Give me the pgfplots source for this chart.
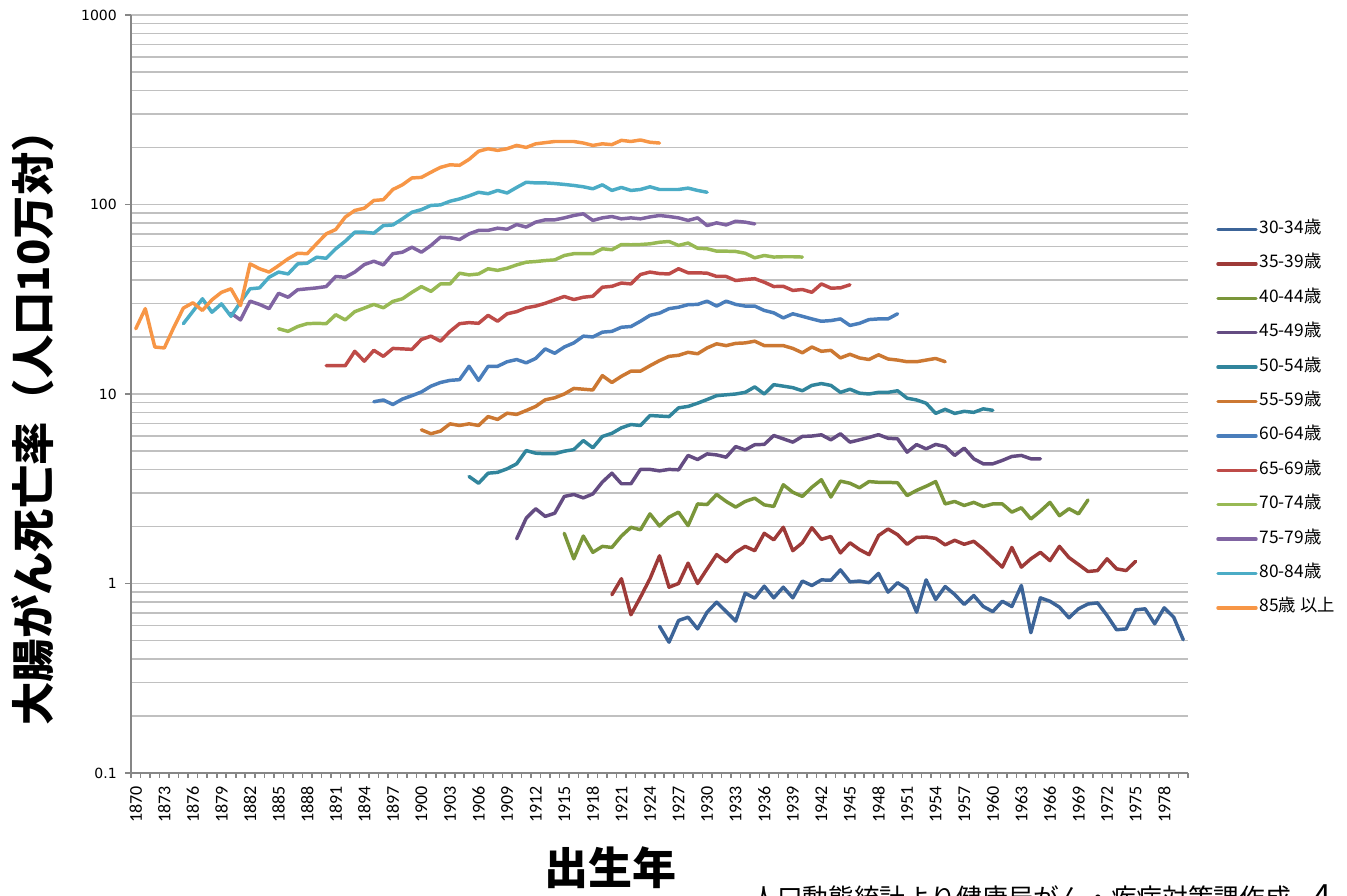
\documentclass[border=0pt]{standalone}
\usepackage{pgfplots}
\pgfplotsset{compat=1.18}
\usepackage{fontspec}
\setmainfont{Carlito}
\newfontfamily\cjk{Noto Sans CJK JP}
\newfontfamily\dejavu{DejaVu Sans}
\definecolor{cA}{RGB}{60,100,152}
\definecolor{cB}{RGB}{158,58,56}
\definecolor{cC}{RGB}{122,150,58}
\definecolor{cD}{RGB}{100,76,130}
\definecolor{cE}{RGB}{49,133,156}
\definecolor{cF}{RGB}{204,120,50}
\definecolor{cG}{RGB}{74,126,187}
\definecolor{cH}{RGB}{190,75,72}
\definecolor{cI}{RGB}{152,185,84}
\definecolor{cJ}{RGB}{128,100,162}
\definecolor{cK}{RGB}{75,172,198}
\definecolor{cL}{RGB}{247,150,70}
\definecolor{gridgray}{RGB}{192,192,192}
\definecolor{axisgray}{RGB}{134,134,134}
\begin{document}
\begin{tikzpicture}
\path[use as bounding box] (0pt,0pt) rectangle (1010.25pt,672pt);
\begin{axis}[
  at={(98.25pt,92.25pt)}, anchor=south west,
  scale only axis, width=792.75pt, height=568.5pt,
  ymode=log, ymin=0.1, ymax=1000,
  xmin=1869.5, xmax=1980.5,
  axis x line*=bottom, axis y line*=left,
  axis line style={draw=axisgray, line width=1.5pt},
  tick align=outside,
  xtick={1870,1873,...,1978},
  xticklabels={1870,1873,1876,1879,1882,1885,1888,1891,1894,1897,1900,1903,1906,1909,1912,1915,1918,1921,1924,1927,1930,1933,1936,1939,1942,1945,1948,1951,1954,1957,1960,1963,1966,1969,1972,1975,1978},
  minor xtick={1869.5,1870.5,...,1980.6},
  ytick={0.1,1,10,100,1000},
  yticklabels={0.1,1,10,100,1000},
  minor ytick={0.2,0.3,0.4,0.5,0.6,0.7,0.8,0.9,2,3,4,5,6,7,8,9,20,30,40,50,60,70,80,90,200,300,400,500,600,700,800,900},
  major tick length=4.5pt, minor tick length=3.75pt,
  major x tick style={draw=none},
  minor y tick style={draw=none},
  tick style={axisgray, line width=1.2pt},
  ymajorgrids=true, yminorgrids=true, xmajorgrids=false, xminorgrids=false,
  major grid style={line width=1.2pt, gridgray},
  minor grid style={line width=1.2pt, gridgray},
  xticklabel style={rotate=90, anchor=east, inner sep=0pt, font=\fontsize{13.5}{13.5}\selectfont},
  xticklabel shift=5pt,
  yticklabel style={inner sep=0pt, font=\dejavu\fontsize{10.5}{10.5}\selectfont},
  yticklabel shift=6pt,
  clip=false,
  every axis plot/.append style={line width=2.6pt, line join=round, line cap=round, mark=none},
  legend style={at={(1.0227,0.7296)}, anchor=north west, draw=none, fill=none,
    font=\cjk\fontsize{13}{13}\selectfont, row sep=15.8pt,
    nodes={inner sep=0pt, inner xsep=1.5pt, text height=8pt, text depth=2pt}},
  legend cell align=left,
  legend image code/.code={\draw[#1] (0pt,0pt) -- (28.5pt,0pt);},
]
% 30-34
\addplot[cA] coordinates {(1925,0.595)(1926,0.49)(1927,0.638)(1928,0.664)(1929,0.576)(1930,0.706)(1931,0.797)(1932,0.711)(1933,0.633)(1934,0.889)(1935,0.837)(1936,0.968)(1937,0.84)(1938,0.956)(1939,0.84)(1940,1.03)(1941,0.976)(1942,1.045)(1943,1.04)(1944,1.18)(1945,1.02)(1946,1.03)(1947,1.01)(1948,1.13)(1949,0.90)(1950,1.01)(1951,0.937)(1952,0.706)(1953,1.045)(1954,0.823)(1955,0.964)(1956,0.875)(1957,0.775)(1958,0.864)(1959,0.756)(1960,0.711)(1961,0.806)(1962,0.756)(1963,0.976)(1964,0.55)(1965,0.84)(1966,0.806)(1967,0.75)(1968,0.659)(1969,0.735)(1970,0.78)(1971,0.79)(1972,0.678)(1973,0.57)(1974,0.576)(1975,0.726)(1976,0.735)(1977,0.613)(1978,0.744)(1979,0.664)(1980,0.505)};
\addlegendentry{30-34歳}
% 35-39
\addplot[cB] coordinates {(1920,0.872)(1921,1.06)(1922,0.684)(1923,0.847)(1924,1.06)(1925,1.4)(1926,0.956)(1927,1.0)(1928,1.28)(1929,1.0)(1930,1.195)(1931,1.42)(1932,1.30)(1933,1.46)(1934,1.57)(1935,1.49)(1936,1.84)(1937,1.70)(1938,1.98)(1939,1.49)(1940,1.64)(1941,1.97)(1942,1.71)(1943,1.77)(1944,1.45)(1945,1.64)(1946,1.51)(1947,1.42)(1948,1.79)(1949,1.94)(1950,1.81)(1951,1.61)(1952,1.75)(1953,1.76)(1954,1.73)(1955,1.6)(1956,1.69)(1957,1.61)(1958,1.67)(1959,1.52)(1960,1.36)(1961,1.22)(1962,1.55)(1963,1.22)(1964,1.35)(1965,1.46)(1966,1.32)(1967,1.57)(1968,1.37)(1969,1.26)(1970,1.157)(1971,1.17)(1972,1.35)(1973,1.195)(1974,1.17)(1975,1.31)};
\addlegendentry{35-39歳}
% 40-44
\addplot[cC] coordinates {(1915,1.84)(1916,1.35)(1917,1.78)(1918,1.46)(1919,1.57)(1920,1.55)(1921,1.78)(1922,1.98)(1923,1.92)(1924,2.33)(1925,2.01)(1926,2.24)(1927,2.38)(1928,2.02)(1929,2.63)(1930,2.61)(1931,2.95)(1932,2.71)(1933,2.53)(1934,2.71)(1935,2.82)(1936,2.6)(1937,2.55)(1938,3.32)(1939,3.03)(1940,2.88)(1941,3.22)(1942,3.53)(1943,2.86)(1944,3.47)(1945,3.38)(1946,3.2)(1947,3.45)(1948,3.42)(1949,3.42)(1950,3.4)(1951,2.91)(1952,3.1)(1953,3.26)(1954,3.45)(1955,2.63)(1956,2.71)(1957,2.58)(1958,2.68)(1959,2.55)(1960,2.63)(1961,2.63)(1962,2.38)(1963,2.51)(1964,2.19)(1965,2.41)(1966,2.68)(1967,2.28)(1968,2.48)(1969,2.33)(1970,2.76)};
\addlegendentry{40-44歳}
% 45-49
\addplot[cD] coordinates {(1910,1.72)(1911,2.21)(1912,2.48)(1913,2.26)(1914,2.35)(1915,2.88)(1916,2.95)(1917,2.83)(1918,2.97)(1919,3.43)(1920,3.82)(1921,3.36)(1922,3.36)(1923,4.0)(1924,4.0)(1925,3.93)(1926,4.0)(1927,3.98)(1928,4.74)(1929,4.51)(1930,4.83)(1931,4.77)(1932,4.64)(1933,5.28)(1934,5.07)(1935,5.4)(1936,5.42)(1937,6.04)(1938,5.8)(1939,5.57)(1940,5.97)(1941,6.0)(1942,6.09)(1943,5.73)(1944,6.17)(1945,5.57)(1946,5.73)(1947,5.9)(1948,6.1)(1949,5.84)(1950,5.8)(1951,4.93)(1952,5.41)(1953,5.13)(1954,5.42)(1955,5.28)(1956,4.74)(1957,5.18)(1958,4.55)(1959,4.28)(1960,4.28)(1961,4.46)(1962,4.68)(1963,4.74)(1964,4.55)(1965,4.55)};
\addlegendentry{45-49歳}
% 50-54
\addplot[cE] coordinates {(1905,3.67)(1906,3.38)(1907,3.82)(1908,3.86)(1909,4.03)(1910,4.28)(1911,5.03)(1912,4.87)(1913,4.84)(1914,4.84)(1915,4.99)(1916,5.09)(1917,5.68)(1918,5.2)(1919,5.97)(1920,6.2)(1921,6.63)(1922,6.9)(1923,6.82)(1924,7.7)(1925,7.65)(1926,7.6)(1927,8.45)(1928,8.6)(1929,8.94)(1930,9.35)(1931,9.8)(1932,9.9)(1933,10.0)(1934,10.2)(1935,10.9)(1936,10.0)(1937,11.2)(1938,11.0)(1939,10.8)(1940,10.4)(1941,11.1)(1942,11.35)(1943,11.1)(1944,10.2)(1945,10.6)(1946,10.1)(1947,10.0)(1948,10.2)(1949,10.2)(1950,10.4)(1951,9.5)(1952,9.3)(1953,8.94)(1954,7.9)(1955,8.3)(1956,7.9)(1957,8.1)(1958,8.0)(1959,8.35)(1960,8.2)};
\addlegendentry{50-54歳}
% 55-59
\addplot[cF] coordinates {(1900,6.47)(1901,6.17)(1902,6.37)(1903,6.96)(1904,6.82)(1905,6.96)(1906,6.82)(1907,7.6)(1908,7.34)(1909,7.92)(1910,7.8)(1911,8.18)(1912,8.6)(1913,9.32)(1914,9.55)(1915,10.0)(1916,10.7)(1917,10.6)(1918,10.5)(1919,12.5)(1920,11.5)(1921,12.4)(1922,13.2)(1923,13.2)(1924,14.1)(1925,15.0)(1926,15.8)(1927,16.0)(1928,16.6)(1929,16.3)(1930,17.5)(1931,18.4)(1932,18.0)(1933,18.5)(1934,18.6)(1935,19.0)(1936,18.0)(1937,18.0)(1938,18.0)(1939,17.4)(1940,16.5)(1941,17.7)(1942,16.8)(1943,17.0)(1944,15.5)(1945,16.2)(1946,15.5)(1947,15.2)(1948,16.1)(1949,15.3)(1950,15.1)(1951,14.8)(1952,14.8)(1953,15.1)(1954,15.4)(1955,14.8)};
\addlegendentry{55-59歳}
% 60-64
\addplot[cG] coordinates {(1895,9.1)(1896,9.3)(1897,8.8)(1898,9.4)(1899,9.8)(1900,10.25)(1901,11.0)(1902,11.5)(1903,11.8)(1904,11.9)(1905,14.0)(1906,11.8)(1907,14.0)(1908,14.0)(1909,14.8)(1910,15.2)(1911,14.6)(1912,15.4)(1913,17.3)(1914,16.4)(1915,17.7)(1916,18.6)(1917,20.2)(1918,20.0)(1919,21.2)(1920,21.4)(1921,22.5)(1922,22.7)(1923,24.2)(1924,26.0)(1925,26.7)(1926,28.2)(1927,28.7)(1928,29.6)(1929,29.7)(1930,30.9)(1931,29.1)(1932,30.9)(1933,29.7)(1934,29.1)(1935,29.1)(1936,27.6)(1937,26.8)(1938,25.2)(1939,26.5)(1940,25.7)(1941,24.9)(1942,24.2)(1943,24.4)(1944,24.9)(1945,23.0)(1946,23.6)(1947,24.7)(1948,24.9)(1949,24.9)(1950,26.5)};
\addlegendentry{60-64歳}
% 65-69
\addplot[cH] coordinates {(1890,14.1)(1891,14.1)(1892,14.1)(1893,16.8)(1894,14.9)(1895,17.0)(1896,15.8)(1897,17.4)(1898,17.3)(1899,17.2)(1900,19.4)(1901,20.2)(1902,19.0)(1903,21.4)(1904,23.5)(1905,23.8)(1906,23.6)(1907,26.0)(1908,24.2)(1909,26.5)(1910,27.2)(1911,28.5)(1912,29.1)(1913,30.1)(1914,31.4)(1915,32.7)(1916,31.5)(1917,32.4)(1918,32.8)(1919,36.6)(1920,37.0)(1921,38.5)(1922,38.1)(1923,42.7)(1924,44.0)(1925,43.2)(1926,43.0)(1927,45.8)(1928,43.6)(1929,43.6)(1930,43.4)(1931,41.7)(1932,41.7)(1933,39.7)(1934,40.2)(1935,40.6)(1936,38.9)(1937,36.9)(1938,37.0)(1939,35.2)(1940,35.6)(1941,34.4)(1942,38.1)(1943,36.2)(1944,36.3)(1945,37.7)};
\addlegendentry{65-69歳}
% 70-74
\addplot[cI] coordinates {(1885,22.1)(1886,21.4)(1887,22.7)(1888,23.5)(1889,23.6)(1890,23.5)(1891,26.2)(1892,24.6)(1893,27.2)(1894,28.4)(1895,29.7)(1896,28.5)(1897,30.8)(1898,31.8)(1899,34.4)(1900,36.9)(1901,34.8)(1902,38.1)(1903,38.1)(1904,43.4)(1905,42.5)(1906,43.0)(1907,45.8)(1908,44.9)(1909,46.1)(1910,48.0)(1911,49.6)(1912,50.0)(1913,50.6)(1914,51.0)(1915,53.8)(1916,55.0)(1917,55.0)(1918,55.0)(1919,58.4)(1920,57.7)(1921,61.5)(1922,61.3)(1923,61.5)(1924,62.0)(1925,63.2)(1926,63.8)(1927,60.8)(1928,62.6)(1929,58.8)(1930,58.4)(1931,56.7)(1932,56.7)(1933,56.5)(1934,55.3)(1935,52.3)(1936,53.8)(1937,52.8)(1938,53.0)(1939,53.0)(1940,52.8)};
\addlegendentry{70-74歳}
% 75-79
\addplot[cJ] coordinates {(1880,26.7)(1881,24.6)(1882,30.9)(1883,29.7)(1884,28.2)(1885,34.0)(1886,32.4)(1887,35.5)(1888,35.9)(1889,36.3)(1890,36.9)(1891,41.7)(1892,41.3)(1893,44.0)(1894,48.2)(1895,50.2)(1896,48.0)(1897,55.0)(1898,56.0)(1899,59.5)(1900,56.0)(1901,60.8)(1902,67.2)(1903,66.8)(1904,65.3)(1905,70.0)(1906,73.0)(1907,73.0)(1908,75.0)(1909,74.0)(1910,78.4)(1911,76.0)(1912,80.7)(1913,83.0)(1914,83.0)(1915,85.0)(1916,87.5)(1917,89.3)(1918,82.4)(1919,85.0)(1920,86.4)(1921,84.0)(1922,85.0)(1923,84.0)(1924,86.0)(1925,87.5)(1926,86.4)(1927,85.0)(1928,82.4)(1929,85.0)(1930,77.4)(1931,80.0)(1932,78.0)(1933,81.6)(1934,80.7)(1935,79.0)};
\addlegendentry{75-79歳}
% 80-84
\addplot[cK] coordinates {(1875,23.5)(1876,27.3)(1877,31.8)(1878,27.0)(1879,29.9)(1880,25.7)(1881,30.5)(1882,35.9)(1883,36.3)(1884,41.3)(1885,44.0)(1886,43.0)(1887,48.6)(1888,49.0)(1889,52.7)(1890,52.0)(1891,58.4)(1892,64.0)(1893,71.4)(1894,71.4)(1895,70.6)(1896,77.4)(1897,78.0)(1898,84.0)(1899,91.0)(1900,94.0)(1901,98.9)(1902,99.5)(1903,104)(1904,107)(1905,111)(1906,116)(1907,114)(1908,118.6)(1909,115)(1910,123)(1911,131)(1912,130)(1913,130)(1914,129)(1915,127.6)(1916,126)(1917,124)(1918,121)(1919,127)(1920,118.6)(1921,123)(1922,118.6)(1923,120)(1924,124)(1925,120)(1926,120)(1927,120)(1928,122)(1929,118.6)(1930,116)};
\addlegendentry{80-84歳}
% 85+
\addplot[cL] coordinates {(1870,22.1)(1871,28.2)(1872,17.7)(1873,17.5)(1874,22.5)(1875,28.4)(1876,30.3)(1877,27.6)(1878,31.4)(1879,34.4)(1880,35.9)(1881,29.3)(1882,48.6)(1883,45.8)(1884,44.0)(1885,47.6)(1886,51.7)(1887,55.3)(1888,55.0)(1889,62.1)(1890,70.0)(1891,73.8)(1892,85.8)(1893,93.0)(1894,95.6)(1895,105)(1896,106)(1897,120)(1898,127)(1899,138)(1900,139)(1901,148)(1902,157)(1903,162)(1904,161)(1905,173)(1906,191)(1907,197)(1908,193)(1909,197)(1910,205)(1911,200)(1912,209)(1913,212)(1914,215)(1915,215)(1916,215)(1917,211)(1918,205)(1919,209)(1920,207)(1921,218)(1922,215)(1923,219)(1924,213)(1925,211)};
\addlegendentry{85歳 以上}
\end{axis}
\node[rotate=90, font=\cjk\bfseries\fontsize{32.5}{32.5}\selectfont, inner sep=0pt] at (24.75pt,359pt) {大腸がん死亡率（人口10万対）};
\node[font=\cjk\bfseries\fontsize{33}{33}\selectfont, inner sep=0pt] at (458pt,21pt) {出生年};
\node[anchor=base west, font=\cjk\fontsize{19.3}{19.3}\selectfont, inner sep=0pt] at (563.25pt,-9pt) {人口動態統計より健康局がん・疾病対策課作成};
\node[anchor=base west, font=\cjk\fontsize{24}{24}\selectfont, inner sep=0pt] at (985pt,-9pt) {4};
\end{tikzpicture}
\end{document}
